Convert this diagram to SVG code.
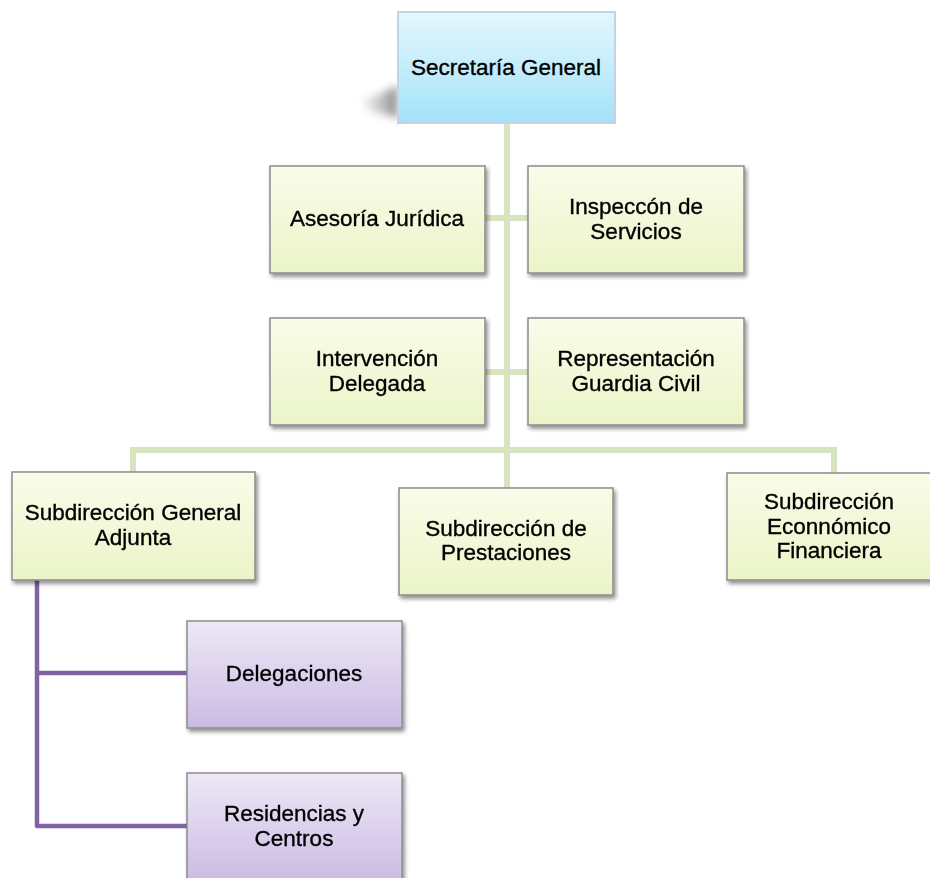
<svg xmlns="http://www.w3.org/2000/svg" width="930" height="878" viewBox="0 0 930 878">
  <defs>
    <linearGradient id="gBlue" x1="0" y1="0" x2="0" y2="1">
      <stop offset="0" stop-color="#e4f7fe"/>
      <stop offset="1" stop-color="#a4e2f9"/>
    </linearGradient>
    <linearGradient id="gGreen" x1="0" y1="0" x2="0" y2="1">
      <stop offset="0" stop-color="#f9fce9"/>
      <stop offset="1" stop-color="#ebf4c8"/>
    </linearGradient>
    <linearGradient id="gPurple" x1="0" y1="0" x2="0" y2="1">
      <stop offset="0" stop-color="#eee8f6"/>
      <stop offset="1" stop-color="#cbbbe4"/>
    </linearGradient>
    <linearGradient id="gCast" x1="1" y1="0" x2="0" y2="0">
      <stop offset="0" stop-color="#555"/>
      <stop offset="1" stop-color="#999" stop-opacity="0.2"/>
    </linearGradient>
    <filter id="drop" x="-10%" y="-10%" width="130%" height="130%">
      <feGaussianBlur in="SourceAlpha" stdDeviation="2"/>
      <feOffset dx="2" dy="3" result="b"/>
      <feComponentTransfer><feFuncA type="linear" slope="0.45"/></feComponentTransfer>
      <feMerge><feMergeNode/><feMergeNode in="SourceGraphic"/></feMerge>
    </filter>
    <filter id="haze" x="-50%" y="-100%" width="200%" height="300%">
      <feGaussianBlur stdDeviation="4"/>
    </filter>
  </defs>
  <style>
    .box { stroke: #8c8c8c; stroke-width: 1.5; }
    .green { fill: url(#gGreen); }
    .purple { fill: url(#gPurple); }
    .blue { fill: url(#gBlue); stroke: #c2d3e6; stroke-width: 2; }
    .lbl { font-family: "Liberation Sans", Arial, sans-serif; font-size: 22.5px; fill: #000; stroke: #000; stroke-width: 0.35; text-anchor: middle; }
    .trunk { stroke: #d7e4bd; stroke-width: 6; fill: none; }
    .sub { stroke: #8064a2; stroke-width: 4.5; fill: none; stroke-linejoin: round; }
  </style>

  <!-- connectors -->
  <g id="connectors">
    <path class="trunk" d="M507 123 V488 M485 218 H528 M485 372 H528 M133 472 V450 H834 V473"/>
    <path class="sub" d="M37 580 V826 H187 M37 673 H187"/>
  </g>

  <!-- top node with its slanted cast shadow -->
  <g id="secretaria">
    <path d="M362 101 L398 86 L398 118 L368 110 Z" fill="url(#gCast)" opacity="0.7" filter="url(#haze)"/>
    <rect class="blue" x="398" y="12" width="217" height="111"/>
    <text class="lbl" x="506" y="75">Secretaría General</text>
  </g>

  <g id="asesoria" filter="url(#drop)">
    <rect class="box green" x="270" y="166" width="215" height="107"/>
    <text class="lbl" x="377" y="226">Asesoría Jurídica</text>
  </g>

  <g id="inspeccion" filter="url(#drop)">
    <rect class="box green" x="528" y="166" width="216" height="107"/>
    <text class="lbl" x="636" y="214">Inspeccón de</text>
    <text class="lbl" x="636" y="239">Servicios</text>
  </g>

  <g id="intervencion" filter="url(#drop)">
    <rect class="box green" x="270" y="318" width="215" height="107"/>
    <text class="lbl" x="377" y="366">Intervención</text>
    <text class="lbl" x="377" y="391">Delegada</text>
  </g>

  <g id="representacion" filter="url(#drop)">
    <rect class="box green" x="528" y="318" width="216" height="107"/>
    <text class="lbl" x="636" y="366">Representación</text>
    <text class="lbl" x="636" y="391">Guardia Civil</text>
  </g>

  <g id="sub-adjunta" filter="url(#drop)">
    <rect class="box green" x="12" y="472" width="243" height="108"/>
    <text class="lbl" x="133" y="520">Subdirección General</text>
    <text class="lbl" x="133" y="545">Adjunta</text>
  </g>

  <g id="sub-prestaciones" filter="url(#drop)">
    <rect class="box green" x="399" y="488" width="214" height="107"/>
    <text class="lbl" x="506" y="536">Subdirección de</text>
    <text class="lbl" x="506" y="560">Prestaciones</text>
  </g>

  <g id="sub-economico" filter="url(#drop)">
    <rect class="box green" x="727" y="473" width="210" height="107"/>
    <text class="lbl" x="829" y="509">Subdirección</text>
    <text class="lbl" x="829" y="534">Econnómico</text>
    <text class="lbl" x="829" y="558">Financiera</text>
  </g>

  <g id="delegaciones" filter="url(#drop)">
    <rect class="box purple" x="187" y="621" width="215" height="107"/>
    <text class="lbl" x="294" y="681">Delegaciones</text>
  </g>

  <g id="residencias" filter="url(#drop)">
    <rect class="box purple" x="187" y="773" width="215" height="110"/>
    <text class="lbl" x="294" y="821">Residencias y</text>
    <text class="lbl" x="294" y="846">Centros</text>
  </g>
</svg>
